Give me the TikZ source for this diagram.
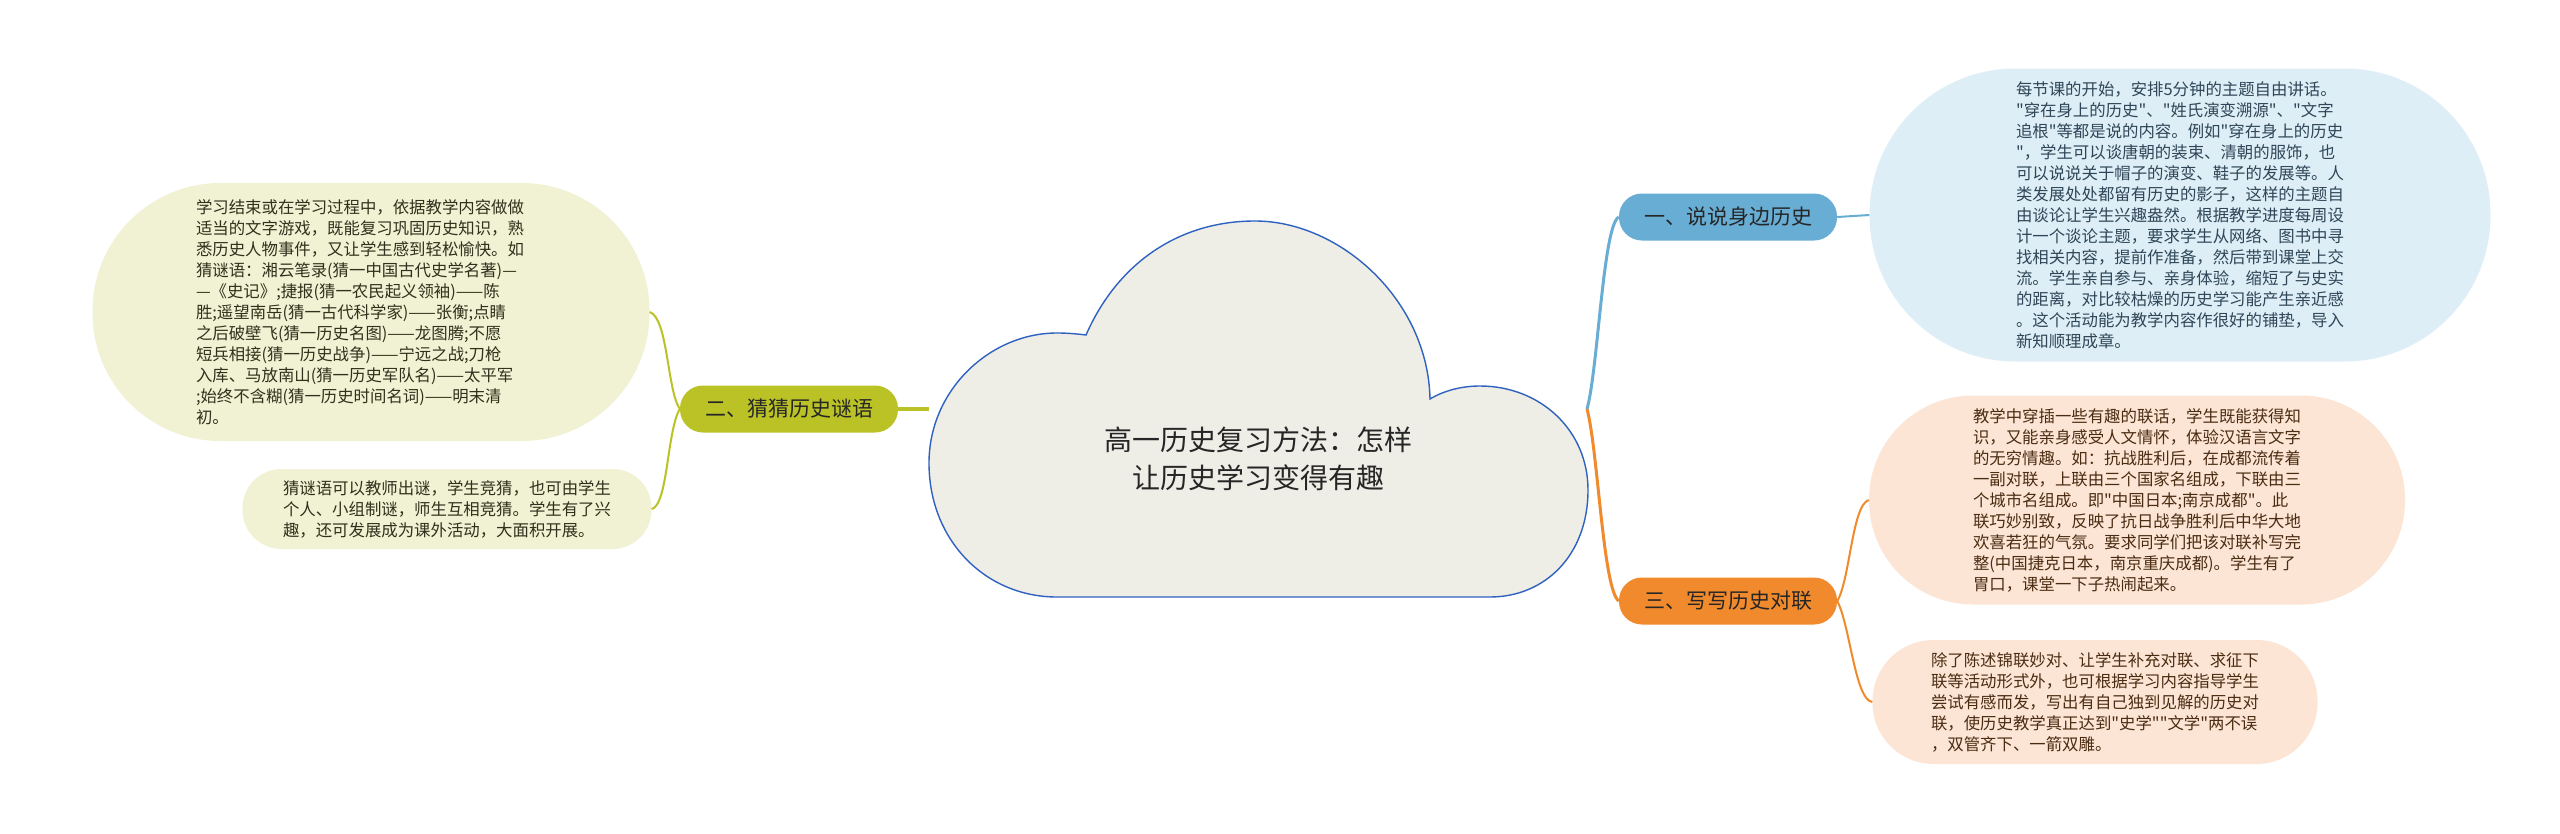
\documentclass[tikz,border=0pt]{standalone}
\usepackage{fontspec}
\newfontfamily\cjk{Noto Sans CJK SC}
\definecolor{cloudfill}{HTML}{EEEDE6}
\definecolor{cloudline}{HTML}{2F62C0}
\definecolor{bluep}{HTML}{68ADD4}
\definecolor{orangep}{HTML}{F08A2C}
\definecolor{olivep}{HTML}{BAC226}
\definecolor{bluebg}{HTML}{DEEEF6}
\definecolor{peachbg}{HTML}{FCE5D5}
\definecolor{olivebg}{HTML}{F0F2D3}
\definecolor{bluetx}{HTML}{2E4657}
\definecolor{browntx}{HTML}{4A2C12}
\definecolor{olivetx}{HTML}{30301C}
\tikzset{
  blob/.style={rectangle, inner sep=0pt, align=left,
    font=\cjk\fontsize{16.4}{21}\selectfont},
  pill/.style={rectangle, rounded corners=23pt, minimum width=218pt,
    minimum height=47pt, inner sep=0pt,
    font=\cjk\fontsize{21}{25}\selectfont, text=black!85},
  mainline/.style={line width=3pt},
  subline/.style={line width=2pt},
}
\begin{document}
\begin{tikzpicture}[x=1pt,y=-1pt]
\useasboundingbox (0,0) rectangle (2560,833);
\fill[white] (0,0) rectangle (2560,833);

% central cloud
\filldraw[fill=cloudfill, draw=cloudline, line width=1.4pt]
  (1086,335) .. controls (1118,262) and (1180,221) .. (1255,221)
  .. controls (1340,221) and (1428,300) .. (1430,399)
  .. controls (1445,390) and (1463,386) .. (1480,386)
  .. controls (1540,386) and (1588,430) .. (1588,490)
  .. controls (1588,555) and (1545,597) .. (1490,597)
  -- (1057,597)
  .. controls (985,597) and (929,540) .. (929,463)
  .. controls (929,390) and (990,333) .. (1057,333)
  .. controls (1068,333) and (1078,334) .. (1086,335) -- cycle;
\node[font=\cjk\fontsize{28}{38}\selectfont, align=center, text=black!85]
  (title) at (1258,459) {高一历史复习方法：怎样\\让历史学习变得有趣};
\coordinate (J) at (1587,409);
\coordinate (cl) at (929,409);

% branch pills
\node[pill, fill=bluep] (p1) at (1728,217) {一、说说身边历史};
\node[pill, fill=orangep] (p3) at (1728,601) {三、写写历史对联};
\node[pill, fill=olivep] (p2) at (789,409) {二、猜猜历史谜语};

% content blobs
\node[blob, fill=bluebg, text=bluetx, rounded corners=146pt,
  minimum width=621pt, minimum height=293pt] (b1) at (2180,215) {%
每节课的开始，安排5分钟的主题自由讲话。\\
"穿在身上的历史"、"姓氏演变溯源"、"文字\\
追根"等都是说的内容。例如"穿在身上的历史\\
"，学生可以谈唐朝的装束、清朝的服饰，也\\
可以说说关于帽子的演变、鞋子的发展等。人\\
类发展处处都留有历史的影子，这样的主题自\\
由谈论让学生兴趣盎然。根据教学进度每周设\\
计一个谈论主题，要求学生从网络、图书中寻\\
找相关内容，提前作准备，然后带到课堂上交\\
流。学生亲自参与、亲身体验，缩短了与史实\\
的距离，对比较枯燥的历史学习能产生亲近感\\
。这个活动能为教学内容作很好的铺垫，导入\\
新知顺理成章。};

\node[blob, fill=peachbg, text=browntx, rounded corners=104pt,
  minimum width=536pt, minimum height=209pt] (b2) at (2137,500) {%
教学中穿插一些有趣的联话，学生既能获得知\\
识，又能亲身感受人文情怀，体验汉语言文字\\
的无穷情趣。如：抗战胜利后，在成都流传着\\
一副对联，上联由三个国家名组成，下联由三\\
个城市名组成。即"中国日本;南京成都"。此\\
联巧妙别致，反映了抗日战争胜利后中华大地\\
欢喜若狂的气氛。要求同学们把该对联补写完\\
整(中国捷克日本，南京重庆成都)。学生有了\\
胃口，课堂一下子热闹起来。};

\node[blob, fill=peachbg, text=browntx, rounded corners=61pt,
  minimum width=445pt, minimum height=124pt] (b3) at (2095,702) {%
除了陈述锦联妙对、让学生补充对联、求征下\\
联等活动形式外，也可根据学习内容指导学生\\
尝试有感而发，写出有自己独到见解的历史对\\
联，使历史教学真正达到"史学""文学"两不误\\
，双管齐下、一箭双雕。};

\node[blob, fill=olivebg, text=olivetx, rounded corners=128pt,
  minimum width=557pt, minimum height=258pt] (bA) at (371,312) {%
学习结束或在学习过程中，依据教学内容做做\kern22pt\\
适当的文字游戏，既能复习巩固历史知识，熟\\
悉历史人物事件，又让学生感到轻松愉快。如\\
猜谜语：湘云笔录(猜一中国古代史学名著)—\\
—《史记》;捷报(猜一农民起义领袖)——陈\\
胜;遥望南岳(猜一古代科学家)——张衡;点睛\\
之后破壁飞(猜一历史名图)——龙图腾;不愿\\
短兵相接(猜一历史战争)——宁远之战;刀枪\\
入库、马放南山(猜一历史军队名)——太平军\\
;始终不含糊(猜一历史时间名词)——明末清\\
初。};

\node[blob, fill=olivebg, text=olivetx, rounded corners=39pt,
  minimum width=409pt, minimum height=80pt] (bB) at (447,509) {%
猜谜语可以教师出谜，学生竞猜，也可由学生\\
个人、小组制谜，师生互相竞猜。学生有了兴\\
趣，还可发展成为课外活动，大面积开展。};

% connectors
\draw[mainline, bluep] (J) .. controls (1598,370) and (1603,225) .. (p1.west);
\draw[mainline, orangep] (J) .. controls (1598,450) and (1603,590) .. (p3.west);
\draw[line width=4pt, olivep] (cl) -- (p2.east);

\draw[subline, bluep] (p1.east) -- (b1.west);
\draw[subline, orangep] (p3.east) .. controls (1850,580) and (1852,505) .. (b2.west);
\draw[subline, orangep] (p3.east) .. controls (1850,625) and (1855,700) .. (b3.west);
\draw[subline, olivep] (p2.west) .. controls (667,390) and (668,318) .. (bA.east);
\draw[subline, olivep] (p2.west) .. controls (667,430) and (668,505) .. (bB.east);
\end{tikzpicture}
\end{document}
